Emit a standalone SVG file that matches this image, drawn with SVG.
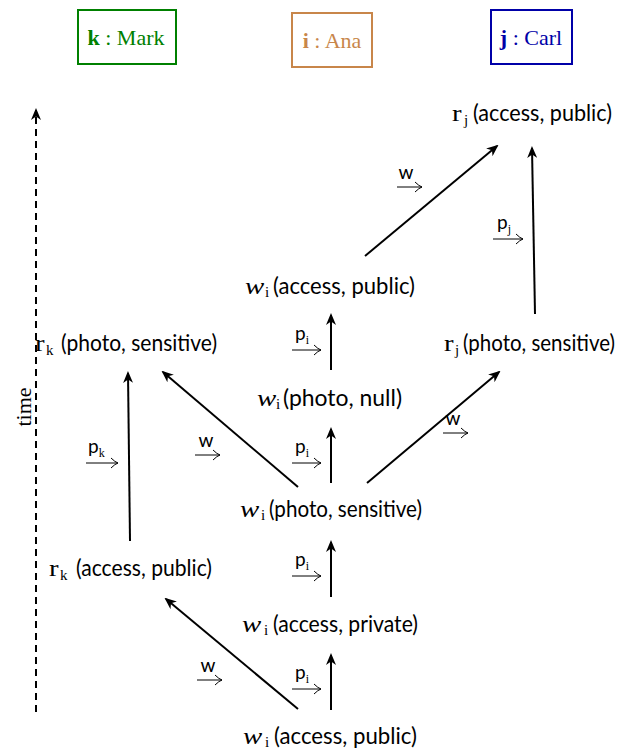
<svg xmlns="http://www.w3.org/2000/svg" width="626" height="751" viewBox="0 0 626 751">
<style>
.n{font-family:Lato,"Open Sans",sans-serif;font-size:23px;fill:#000}
.m{font-family:"Liberation Serif",serif;font-size:23px;fill:#000}
.mi{font-family:"Liberation Serif",serif;font-style:italic;font-size:24px;fill:#000}
.sub{font-family:"Liberation Serif",serif;font-size:15px;fill:#000}
.lab{font-family:Lato,"Open Sans",sans-serif;font-size:19px;fill:#000}
.lsub{font-family:"Liberation Serif",serif;font-size:12px;fill:#000}
.e{stroke:#000;stroke-width:2;fill:none;marker-end:url(#ah)}
.la{stroke:#000;stroke-width:1;fill:none}
.box{fill:#fff;stroke-width:2}
.ag{font-family:"Liberation Serif",serif;font-size:22px}
</style>
<defs>
<marker id="ah" viewBox="0 0 12 10" refX="10" refY="5" markerWidth="12" markerHeight="10" orient="auto" markerUnits="userSpaceOnUse">
<path d="M0,0 L12,5 L0,10 L3.5,5 Z" fill="#000"/>
</marker>
</defs>

<g id="agent-k">
<rect class="box" x="78" y="10" width="98" height="54" stroke="#008000"/>
<text class="ag" x="126" y="45" text-anchor="middle" fill="#008000"><tspan font-weight="bold">k</tspan> : Mark</text>
</g>
<g id="agent-i">
<rect class="box" x="292" y="13" width="80" height="54" stroke="#C8864A"/>
<text class="ag" x="332" y="48" text-anchor="middle" fill="#C8864A"><tspan font-weight="bold">i</tspan> : Ana</text>
</g>
<g id="agent-j">
<rect class="box" x="491" y="10" width="81" height="54" stroke="#0000A8"/>
<text class="ag" x="531" y="45" text-anchor="middle" fill="#0000A8"><tspan font-weight="bold">j</tspan> : Carl</text>
</g>

<g id="time-axis">
<line x1="36" y1="712" x2="36" y2="110" stroke="#000" stroke-width="2" stroke-dasharray="7,5" marker-end="url(#ah)"/>
<text x="31" y="407" transform="rotate(-90 31 407)" text-anchor="middle" font-family="Liberation Serif,serif" font-size="22px">time</text>
</g>

<g id="connectors">
<line class="e" x1="365" y1="256" x2="497" y2="146"/>
<line class="e" x1="535" y1="314" x2="532" y2="148"/>
<line class="e" x1="331" y1="370" x2="331" y2="315"/>
<line class="e" x1="331" y1="483" x2="331" y2="429"/>
<line class="e" x1="298" y1="487" x2="163" y2="372"/>
<line class="e" x1="367" y1="483" x2="499" y2="372"/>
<line class="e" x1="130" y1="541" x2="128" y2="373"/>
<line class="e" x1="331" y1="597" x2="331" y2="542"/>
<line class="e" x1="331" y1="710" x2="331" y2="655"/>
<line class="e" x1="298" y1="709" x2="166" y2="599"/>
</g>

<g id="edge-labels">
<g id="lab-w1"><text class="lab" x="406" y="179" text-anchor="middle">w</text><path class="la" d="M397,187 H422 M415,182 Q419,186 422,187 Q419,188 415,192"/></g>
<g id="lab-pj"><text class="lab" x="497" y="229">p<tspan class="lsub" dy="4">j</tspan></text><path class="la" d="M493,239 H523 M516,234 Q520,238 523,239 Q520,240 516,244"/></g>
<g id="lab-pi1"><text class="lab" x="295" y="340">p<tspan class="lsub" dy="4">i</tspan></text><path class="la" d="M292,350 H321 M314,345 Q318,349 321,350 Q318,351 314,355"/></g>
<g id="lab-pk"><text class="lab" x="88" y="453">p<tspan class="lsub" dy="4">k</tspan></text><path class="la" d="M86,463 H118 M111,458 Q115,462 118,463 Q115,464 111,468"/></g>
<g id="lab-w2"><text class="lab" x="206" y="447" text-anchor="middle">w</text><path class="la" d="M195,455 H220 M213,450 Q217,454 220,455 Q217,456 213,460"/></g>
<g id="lab-pi2"><text class="lab" x="295" y="453">p<tspan class="lsub" dy="4">i</tspan></text><path class="la" d="M292,463 H321 M314,458 Q318,462 321,463 Q318,464 314,468"/></g>
<g id="lab-w3"><text class="lab" x="453" y="425" text-anchor="middle">w</text><path class="la" d="M443,433 H468 M461,428 Q465,432 468,433 Q465,434 461,438"/></g>
<g id="lab-pi3"><text class="lab" x="295" y="566">p<tspan class="lsub" dy="4">i</tspan></text><path class="la" d="M292,576 H321 M314,571 Q318,575 321,576 Q318,577 314,581"/></g>
<g id="lab-w4"><text class="lab" x="208" y="672" text-anchor="middle">w</text><path class="la" d="M197,680 H222 M215,675 Q219,679 222,680 Q219,681 215,685"/></g>
<g id="lab-pi4"><text class="lab" x="295" y="679">p<tspan class="lsub" dy="4">i</tspan></text><path class="la" d="M292,689 H321 M314,684 Q318,688 321,689 Q318,690 314,694"/></g>
</g>

<g id="n-rj-ap">
<text class="m" transform="translate(452,121) scale(1.25,1)">r</text>
<text class="sub" x="464" y="125">j</text>
<text class="n" x="473" y="121" textLength="139" lengthAdjust="spacingAndGlyphs">(access, public)</text>
</g>
<g id="n-wi-ap2">
<text class="mi" transform="translate(245,294) scale(1.2,1)">w</text>
<text class="sub" x="265" y="297">i</text>
<text class="n" x="273" y="294" textLength="142" lengthAdjust="spacingAndGlyphs">(access, public)</text>
</g>
<g id="n-rj-ps">
<text class="m" transform="translate(444,351) scale(1.25,1)">r</text>
<text class="sub" x="455" y="355">j</text>
<text class="n" x="463" y="351" textLength="152" lengthAdjust="spacingAndGlyphs">(photo, sensitive)</text>
</g>
<g id="n-rk-ps">
<text class="m" transform="translate(35,351) scale(1.25,1)">r</text>
<text class="sub" x="46" y="355">k</text>
<text class="n" x="61" y="351" textLength="156" lengthAdjust="spacingAndGlyphs">(photo, sensitive)</text>
</g>
<g id="n-wi-pn">
<text class="mi" transform="translate(257,406) scale(1.2,1)">w</text>
<text class="sub" x="276" y="409">i</text>
<text class="n" x="283" y="406" textLength="119" lengthAdjust="spacingAndGlyphs">(photo, null)</text>
</g>
<g id="n-wi-ps">
<text class="mi" transform="translate(240,517) scale(1.2,1)">w</text>
<text class="sub" x="261" y="520">i</text>
<text class="n" x="269" y="517" textLength="153" lengthAdjust="spacingAndGlyphs">(photo, sensitive)</text>
</g>
<g id="n-rk-ap">
<text class="m" transform="translate(49,576) scale(1.25,1)">r</text>
<text class="sub" x="60" y="580">k</text>
<text class="n" x="76" y="576" textLength="136" lengthAdjust="spacingAndGlyphs">(access, public)</text>
</g>
<g id="n-wi-apr">
<text class="mi" transform="translate(242,632) scale(1.2,1)">w</text>
<text class="sub" x="264" y="635">i</text>
<text class="n" x="273" y="632" textLength="145" lengthAdjust="spacingAndGlyphs">(access, private)</text>
</g>
<g id="n-wi-ap1">
<text class="mi" transform="translate(243,744) scale(1.2,1)">w</text>
<text class="sub" x="265" y="747">i</text>
<text class="n" x="274" y="744" textLength="143" lengthAdjust="spacingAndGlyphs">(access, public)</text>
</g>
</svg>
